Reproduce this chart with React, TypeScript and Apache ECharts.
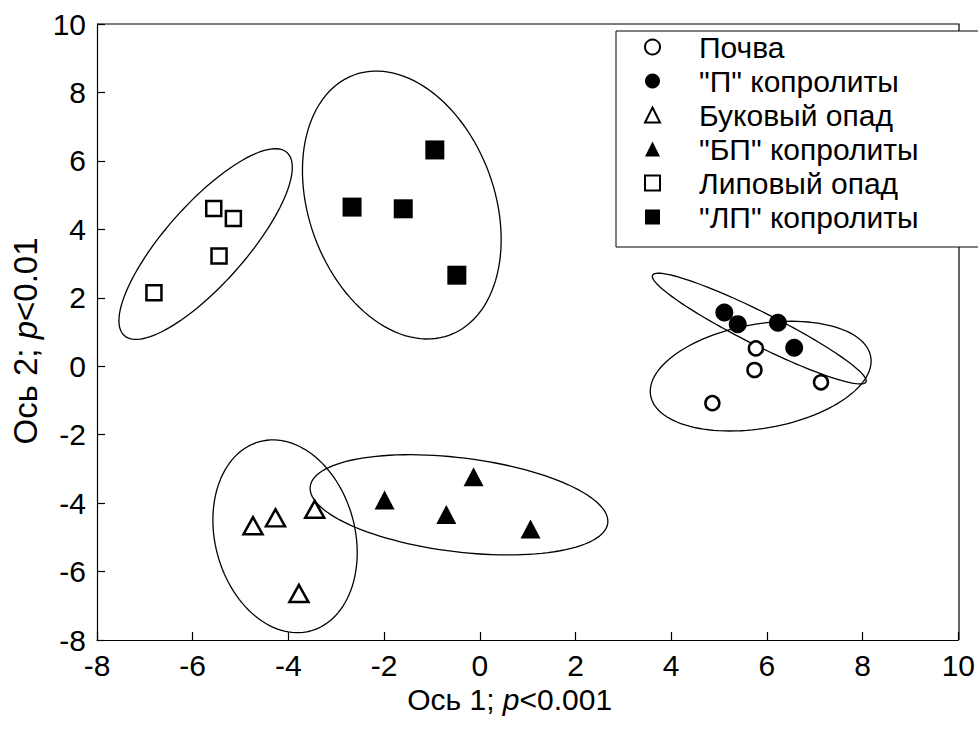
import React, { useEffect, useRef } from "react";
import * as echarts from "echarts";

// Ordination scores: [axis 1, axis 2]
const soil: number[][] = [[5.77, 0.52], [5.74, -0.11], [7.13, -0.47], [4.86, -1.08]];
const soilCoprolites: number[][] = [[5.11, 1.57], [5.39, 1.23], [6.23, 1.27], [6.57, 0.54]];
const beechLitter: number[][] = [[-4.74, -4.66], [-4.27, -4.43], [-3.45, -4.18], [-3.78, -6.64]];
const beechCoprolites: number[][] = [[-1.99, -3.91], [-0.13, -3.23], [-0.7, -4.33], [1.06, -4.76]];
const limeLitter: number[][] = [[-5.56, 4.61], [-5.15, 4.32], [-5.45, 3.22], [-6.81, 2.15]];
const limeCoprolites: number[][] = [[-2.67, 4.65], [-1.6, 4.6], [-0.94, 6.32], [-0.48, 2.66]];

const seriesNames = [
  "Почва",
  '"П" копролиты',
  "Буковый опад",
  '"БП" копролиты',
  "Липовый опад",
  '"ЛП" копролиты',
];

// Group ellipses: centre and two conjugate semi-axis vectors, in axis units
const ellipseCenters: number[][] = [
  [5.87, -0.29], [5.84, 1.1], [-4.07, -4.97], [-0.435, -4.05], [-5.73, 3.57], [-1.63, 4.71],
];
const ellipseMajor: number[][] = [
  [2.3, 0.567], [2.23, -1.56], [0.53, -2.767], [3.109, -0.535], [1.7, 2.674], [1.0, -3.8],
];
const ellipseMinor: number[][] = [
  [-0.19, 1.5], [-0.154, -0.432], [1.412, 0.529], [0.12, 1.363], [0.626, -0.78], [1.82, 0.94],
];

const xTicks = { min: -8, max: 10, interval: 2 };
const yTicks = { min: -8, max: 10, interval: 2 };

const FONT = "Liberation Sans, Arial, sans-serif";
const FS = 30;

export default function App() {
  const ref = useRef<HTMLDivElement>(null);

  useEffect(() => {
    if (!ref.current) return;
    const chart = echarts.init(ref.current, undefined, { renderer: "svg" });

    const open = { color: "#fff", borderColor: "#000", borderWidth: 2.5, opacity: 1 };
    const filled = { color: "#000", borderColor: "#000", borderWidth: 0, opacity: 1 };

    const scatter = (name: string, data: number[][], symbol: string, size: any, style: any) => ({
      type: "scatter",
      name,
      data,
      symbol,
      symbolSize: size,
      itemStyle: style,
      z: 5,
    });

    const richX = {
      n: { fontSize: FS, fontFamily: FONT, color: "#000" },
      i: { fontSize: FS, fontFamily: FONT, color: "#000", fontStyle: "italic" },
    };
    const richY = {
      n: { fontSize: 33, fontFamily: FONT, color: "#000" },
      i: { fontSize: 33, fontFamily: FONT, color: "#000", fontStyle: "italic" },
    };

    chart.setOption({
      animation: false,
      textStyle: { fontFamily: FONT, color: "#000" },
      grid: { left: 97, top: 24, right: 19, bottom: 90, show: false },
      xAxis: {
        type: "value",
        min: xTicks.min,
        max: xTicks.max,
        interval: xTicks.interval,
        splitLine: { show: false },
        axisLine: { show: true, onZero: false, lineStyle: { color: "#000", width: 1.2 } },
        axisTick: { show: true, inside: true, length: 8, lineStyle: { color: "#000", width: 1.2 } },
        axisLabel: { fontSize: FS, color: "#000", margin: 10, fontFamily: FONT },
        name: "{n|Ось 1; }{i|p}{n|<0.001}",
        nameLocation: "middle",
        nameGap: 34,
        nameTextStyle: { rich: richX, padding: [0, 36, 0, 0] },
      },
      yAxis: {
        type: "value",
        min: yTicks.min,
        max: yTicks.max,
        interval: yTicks.interval,
        splitLine: { show: false },
        axisLine: { show: true, onZero: false, lineStyle: { color: "#000", width: 1.2 } },
        axisTick: { show: true, inside: true, length: 8, lineStyle: { color: "#000", width: 1.2 } },
        axisLabel: { fontSize: FS, color: "#000", margin: 11, fontFamily: FONT },
        name: "{n|Ось 2; }{i|p}{n|<0.01}",
        nameLocation: "middle",
        nameGap: 54,
        nameTextStyle: { rich: richY, padding: [0, 18, 0, 0] },
      },
      graphic: [
        // top and right edges of the plot frame
        {
          type: "polyline",
          shape: { points: [[97, 24], [959, 24], [959, 640]] },
          style: { stroke: "#000", lineWidth: 1.2, fill: "none" },
          z: 1,
        },
      ],
      legend: {
        orient: "vertical",
        left: 616,
        top: 31,
        data: seriesNames,
        backgroundColor: "#fff",
        borderColor: "#000",
        borderWidth: 1,
        padding: [1, 110, 15, 28],
        itemWidth: 15,
        itemHeight: 15,
        itemGap: 4,
        textStyle: { fontSize: FS, fontFamily: FONT, color: "#000", lineHeight: 30, padding: [0, 0, 0, 34] },
        z: 10,
      },
      series: [
        {
          type: "custom",
          name: "ellipses",
          coordinateSystem: "cartesian2d",
          data: ellipseCenters.map((c, i) => [c[0], c[1], i]),
          encode: { x: 0, y: 1 },
          silent: true,
          z: 2,
          renderItem: (params: any, api: any) => {
            const i = api.value(2);
            const c = ellipseCenters[i];
            const u = ellipseMajor[i];
            const v = ellipseMinor[i];
            const pts: number[][] = [];
            for (let k = 0; k <= 120; k++) {
              const t = (k / 120) * Math.PI * 2;
              const x = c[0] + u[0] * Math.cos(t) + v[0] * Math.sin(t);
              const y = c[1] + u[1] * Math.cos(t) + v[1] * Math.sin(t);
              pts.push(api.coord([x, y]));
            }
            return {
              type: "polygon",
              shape: { points: pts },
              style: { fill: "none", stroke: "#000", lineWidth: 1.3 },
            };
          },
        },
        scatter(seriesNames[0], soil, "circle", 14, open),
        scatter(seriesNames[1], soilCoprolites, "circle", 18, filled),
        scatter(seriesNames[2], beechLitter, "triangle", [19, 17], open),
        scatter(seriesNames[3], beechCoprolites, "triangle", [20, 19], filled),
        scatter(seriesNames[4], limeLitter, "rect", 15, open),
        scatter(seriesNames[5], limeCoprolites, "rect", 19, filled),
      ],
    });

    return () => chart.dispose();
  }, []);

  return (
    <div
      ref={ref}
      style={{ position: "absolute", left: 0, top: 0, width: 978, height: 730, background: "#fff" }}
    />
  );
}
